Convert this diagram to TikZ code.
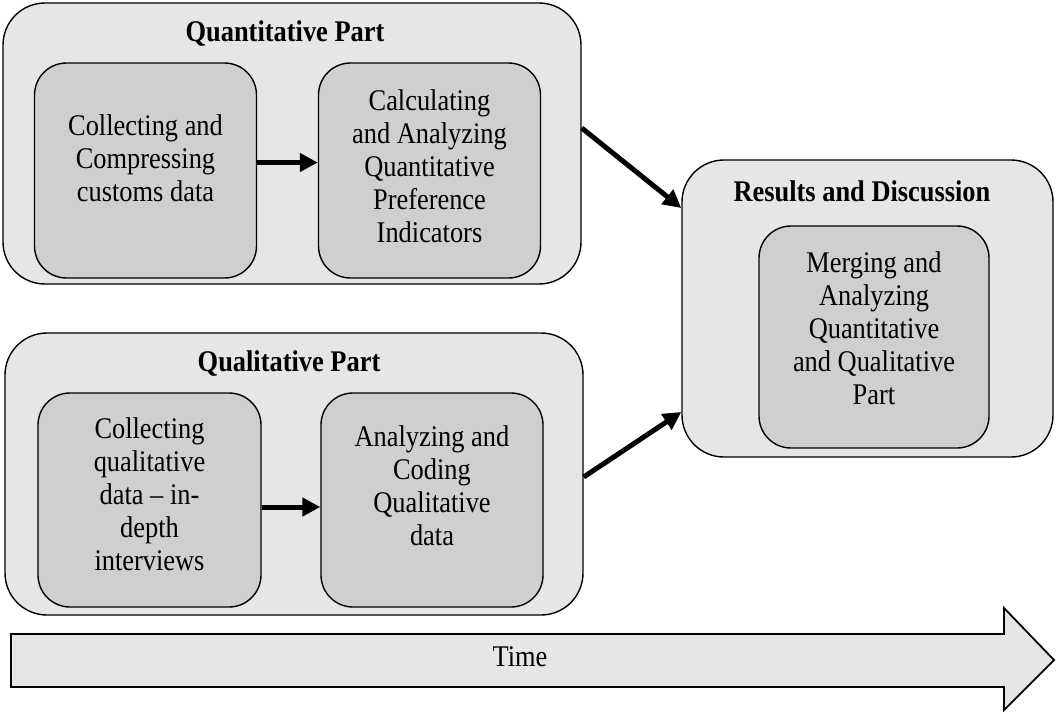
\documentclass[tikz,border=0pt]{standalone}
\usepackage{fontspec}
\setmainfont{Liberation Serif}
\usetikzlibrary{arrows.meta}
\definecolor{outgray}{HTML}{E7E6E6}
\definecolor{ingray}{HTML}{D0CECE}
\tikzset{outbox/.style={draw=black, line width=1.4pt, fill=outgray, rounded corners=42pt, inner sep=0pt},
  inbox/.style={draw=black, line width=1.4pt, fill=ingray, rounded corners=32pt, inner sep=0pt, minimum width=222pt, minimum height=215pt},
  boxtext/.style={align=center, inner sep=0pt, xscale=0.88, transform shape, font=\fontsize{30}{33}\selectfont},
  headtext/.style={inner sep=0pt, xscale=0.88, transform shape, font=\fontsize{30}{33}\selectfont\bfseries},
  flow/.style={line width=5pt, -{Triangle[length=18pt,width=18pt]}}}

\begin{document}
\begin{tikzpicture}[x=1pt,y=-1pt]
   \useasboundingbox (0,0) rectangle (1057,713);
   % quantitative part
   \node[outbox, minimum width=578pt, minimum height=281pt] (quant) at (292,143.5) {};
   \node[headtext] (quanttitle) at (285,34) {Quantitative Part};
   \node[inbox] (quantA) at (145.5,170.5) {};
   \node[inbox] (quantB) at (429.5,170.5) {};
   \node[boxtext] (quantAtext) at (145.5,158) {Collecting and\\Compressing\\customs data};
   \node[boxtext] (quantBtext) at (429.5,166) {Calculating\\and Analyzing\\Quantitative\\Preference\\Indicators};
   \draw[flow] ([yshift=8pt]quantA.east) -- ([yshift=8pt]quantB.west);
   % qualitative part
   \node[outbox, minimum width=578pt, minimum height=282pt] (qual) at (294,474) {};
   \node[headtext] (qualtitle) at (289,364) {Qualitative Part};
   \node[inbox, minimum width=223pt, minimum height=214pt] (qualA) at (149.5,500) {};
   \node[inbox, minimum height=214pt] (qualB) at (432,500) {};
   \node[boxtext] (qualAtext) at (149.5,494.5) {Collecting\\qualitative\\data -- in-\\depth\\interviews};
   \node[boxtext] (qualBtext) at (432,486) {Analyzing and\\Coding\\Qualitative\\data};
   \draw[flow] ([yshift=-7pt]qualA.east) -- ([yshift=-7pt]qualB.west);
   % results
   \node[outbox, minimum width=371pt, minimum height=297pt] (result) at (867.5,308.5) {};
   \node[headtext] (resulttitle) at (862,191) {Results and Discussion};
   \node[inbox, minimum width=230pt, minimum height=222pt] (resultA) at (874,337) {};
   \node[boxtext] (resultAtext) at (874,328) {Merging and\\Analyzing\\Quantitative\\and Qualitative\\Part};
   \draw[flow] ([yshift=15.5pt]quant.east) -- ([yshift=100.5pt]result.west);
   \draw[flow] ([yshift=-3pt]qual.east) -- ([yshift=-103.5pt]result.west);
   % time arrow
   \draw[line width=1.8pt, fill=outgray] (11,634) -- (1004,634) -- (1004,608) -- (1054,660)
      -- (1004,710) -- (1004,687) -- (11,687) -- cycle;
   \node[boxtext] (time) at (520,657) {Time};
\end{tikzpicture}
\end{document}
